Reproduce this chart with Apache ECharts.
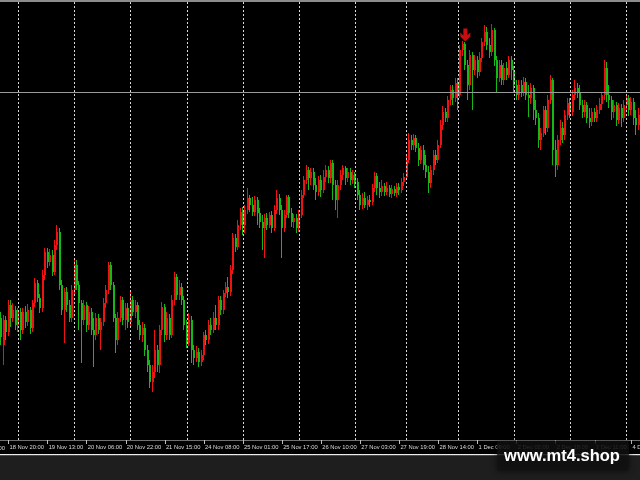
<!DOCTYPE html>
<html>
<head>
<meta charset="utf-8">
<script src="https://cdn.jsdelivr.net/npm/echarts@6/dist/echarts.min.js"></script>
<style>
html,body{margin:0;padding:0;background:#000;}
#chart{width:640px;height:480px;}
</style>
</head>
<body>
<div id="chart"></div>
<script>
// Trading sessions: [day, first hour, last hour] (hourly bars)
const sessions = [
  ['18 Nov',17,23],['19 Nov',1,23],['20 Nov',1,23],['21 Nov',1,23],
  ['24 Nov',1,23],['25 Nov',1,23],['26 Nov',1,23],['27 Nov',1,21],
  ['28 Nov',1,21],['1 Dec',1,23],['2 Dec',1,23],['3 Dec',1,23],['4 Dec',1,6]
];
// Axis tick labels
const tickLabels = ['18 Nov 20:00','19 Nov 13:00','20 Nov 06:00','20 Nov 22:00','21 Nov 15:00',
  '24 Nov 08:00','25 Nov 01:00','25 Nov 17:00','26 Nov 10:00','27 Nov 03:00','27 Nov 19:00',
  '28 Nov 14:00','1 Dec 09:00','2 Dec 02:00','2 Dec 18:00','3 Dec 11:00','4 Dec 03:00'];
const cutLabel = '18 Nov 04:00';
// Candles: [open, close, low, high]
const candles = [
[3922,3903,3895,3928],[3895,3920,3875,3925],[3920,3908,3900,3924],[3908,3935,3904,3940],[3935,3922,3913,3940],
[3922,3930,3918,3937],[3930,3915,3910,3934],[3915,3928,3908,3932],[3928,3910,3900,3932],[3910,3928,3906,3932],
[3928,3918,3912,3934],[3918,3930,3914,3936],[3930,3912,3906,3933],[3912,3937,3908,3940],[3937,3957,3933,3962],
[3957,3942,3938,3960],[3942,3932,3927,3946],[3932,3965,3928,3970],[3965,3988,3960,3992],[3988,3978,3972,3992],
[3978,3985,3974,3991],[3985,3968,3964,3990],[3968,3995,3965,4000],[3995,4008,3990,4015],[4008,3955,3950,4012],
[3955,3930,3925,3960],[3930,3948,3897,3952],[3948,3935,3928,3953],[3935,3922,3918,3940],[3922,3950,3918,3955],
[3950,3975,3946,3980],[3975,3955,3950,3980],[3955,3937,3910,3959],[3937,3920,3877,3940],[3920,3935,3915,3940],
[3935,3915,3908,3938],[3915,3928,3910,3934],[3928,3910,3905,3932],[3910,3905,3873,3922],[3905,3922,3900,3927],
[3922,3910,3906,3926],[3910,3918,3890,3922],[3918,3937,3914,3942],[3937,3950,3932,3955],[3950,3975,3946,3978],
[3975,3955,3950,3978],[3955,3922,3918,3958],[3922,3900,3887,3926],[3900,3922,3895,3928],[3922,3940,3918,3944],
[3940,3920,3915,3943],[3920,3932,3910,3937],[3932,3918,3912,3937],[3918,3940,3914,3948],[3940,3928,3924,3944],
[3928,3935,3922,3940],[3935,3915,3910,3938],[3915,3905,3900,3920],[3905,3912,3898,3918],[3912,3890,3884,3916],
[3890,3875,3868,3895],[3875,3858,3852,3880],[3858,3868,3848,3875],[3868,3890,3862,3910],[3890,3875,3868,3895],
[3875,3910,3867,3915],[3910,3933,3905,3938],[3933,3905,3898,3936],[3905,3922,3900,3928],[3922,3905,3900,3926],
[3905,3940,3902,3945],[3940,3963,3935,3968],[3963,3945,3940,3966],[3945,3953,3940,3960],[3953,3940,3935,3957],
[3940,3915,3910,3944],[3915,3897,3892,3920],[3897,3920,3894,3927],[3920,3890,3877,3924],[3890,3882,3875,3895],
[3882,3888,3878,3894],[3888,3878,3873,3892],[3878,3885,3874,3890],[3885,3905,3880,3908],[3905,3900,3895,3910],
[3900,3915,3896,3920],[3915,3910,3905,3922],[3910,3922,3907,3928],[3922,3915,3910,3935],[3915,3940,3910,3944],
[3940,3930,3925,3944],[3930,3947,3926,3950],[3947,3953,3943,3958],[3953,3948,3942,3963],[3948,3970,3944,3975],
[3970,4002,3966,4007],[4002,3993,3988,4006],[3993,4015,3990,4020],[4015,4028,4010,4032],[4028,4015,4005,4033],
[4015,4030,4007,4035],[4030,4042,4026,4052],[4042,4035,4028,4045],[4035,4028,4024,4043],[4028,4040,4024,4044],
[4040,4027,4015,4043],[4027,4018,4012,4032],[4018,4012,3990,4025],[4012,4022,3982,4026],[4022,4015,4010,4027],
[4015,4025,4012,4028],[4025,4012,4007,4029],[4012,4030,4009,4035],[4030,4042,4026,4050],[4042,4030,4025,4046],
[4030,4012,3982,4035],[4012,4025,4008,4030],[4025,4043,4022,4045],[4043,4027,4022,4045],[4027,4018,4013,4032],
[4018,4022,4012,4026],[4022,4012,4007,4026],[4012,4025,4008,4030],[4025,4045,4022,4050],[4045,4060,4042,4064],
[4060,4070,4056,4075],[4070,4062,4050,4073],[4062,4068,4055,4072],[4068,4055,4050,4072],[4055,4048,4040,4062],
[4048,4060,4044,4064],[4060,4050,4043,4065],[4050,4063,4047,4070],[4063,4070,4058,4075],[4070,4062,4057,4074],
[4062,4077,4057,4080],[4077,4055,4040,4080],[4055,4040,4030,4060],[4040,4055,4022,4060],[4055,4065,4050,4070],
[4065,4072,4060,4075],[4072,4062,4055,4074],[4062,4068,4058,4072],[4068,4060,4055,4072],[4060,4065,4056,4070],
[4065,4058,4052,4068],[4058,4045,4040,4062],[4045,4035,4030,4050],[4035,4042,4031,4047],[4042,4035,4032,4048],
[4035,4040,4030,4044],[4040,4038,4033,4045],[4038,4052,4035,4056],[4052,4064,4048,4068],[4064,4052,4045,4067],
[4052,4048,4042,4058],[4048,4054,4044,4060],[4054,4048,4044,4057],[4048,4052,4045,4058],[4052,4046,4043,4055],
[4046,4051,4042,4055],[4051,4047,4044,4054],[4047,4053,4043,4057],[4053,4050,4045,4057],[4050,4058,4047,4062],
[4058,4063,4054,4067],[4063,4080,4060,4085],[4080,4100,4077,4107],[4100,4095,4090,4105],[4095,4102,4090,4106],
[4102,4092,4088,4105],[4092,4080,4074,4097],[4080,4090,4076,4094],[4090,4075,4070,4095],[4075,4068,4062,4085],
[4068,4057,4047,4074],[4057,4070,4052,4075],[4070,4085,4065,4090],[4085,4080,4075,4090],[4080,4095,4077,4100],
[4095,4115,4092,4120],[4115,4128,4110,4134],[4128,4122,4118,4132],[4122,4140,4118,4144],[4140,4150,4135,4155],
[4150,4142,4135,4155],[4142,4157,4138,4162],[4157,4145,4130,4162],[4145,4190,4142,4195],[4190,4196,4184,4199],
[4196,4175,4170,4198],[4175,4155,4140,4180],[4155,4185,4150,4190],[4185,4170,4130,4188],[4170,4180,4165,4185],
[4180,4168,4162,4184],[4168,4182,4164,4188],[4182,4198,4178,4202],[4198,4208,4194,4215],[4208,4195,4190,4213],
[4195,4188,4182,4202],[4188,4210,4184,4216],[4210,4180,4174,4212],[4180,4162,4148,4184],[4162,4175,4158,4180],
[4175,4160,4155,4180],[4160,4172,4155,4177],[4172,4165,4160,4178],[4165,4180,4162,4184],[4180,4170,4160,4184],
[4170,4155,4148,4174],[4155,4145,4140,4160],[4145,4155,4140,4160],[4155,4148,4143,4160],[4148,4158,4144,4163],
[4158,4145,4140,4162],[4145,4142,4123,4155],[4142,4152,4136,4157],[4152,4130,4120,4155],[4130,4122,4115,4140],
[4122,4100,4092,4127],[4100,4107,4090,4112],[4107,4130,4103,4134],[4130,4112,4105,4134],[4112,4140,4108,4145],
[4140,4160,4136,4165],[4160,4090,4075,4162],[4090,4075,4063,4100],[4075,4100,4070,4105],[4100,4112,4095,4120],
[4112,4105,4097,4118],[4105,4125,4100,4130],[4125,4137,4120,4142],[4137,4128,4122,4142],[4128,4145,4124,4150],
[4145,4152,4140,4160],[4152,4148,4142,4157],[4148,4135,4130,4155],[4135,4128,4122,4140],[4128,4135,4123,4140],
[4135,4122,4117,4138],[4122,4118,4112,4132],[4118,4128,4114,4132],[4128,4122,4118,4132],[4122,4130,4118,4135],
[4130,4136,4126,4142],[4136,4145,4130,4148],[4145,4172,4140,4180],[4172,4145,4138,4178],[4145,4140,4132,4155],
[4140,4128,4120,4144],[4128,4135,4122,4140],[4135,4120,4114,4138],[4120,4132,4116,4137],[4132,4122,4113,4136],
[4122,4135,4118,4140],[4135,4142,4130,4146],[4142,4130,4124,4145],[4130,4138,4125,4143],[4138,4122,4115,4142],
[4122,4115,4105,4130],[4115,4125,4110,4132]
];
// Horizontal price line and signal arrow
const levelPrice = 4148;
const arrowBar = '1 Dec 04:00';
const arrowPrice = 4205;

const UP = '#f01212', DOWN = '#16b816';

const categories = [];
sessions.forEach(([d, a, b]) => {
  for (let h = a; h <= b; h++) categories.push(d + ' ' + String(h).padStart(2, '0') + ':00');
});
const dayStarts = sessions.slice(1).map(s => s[0] + ' 01:00');
const tickSet = new Set(tickLabels);
const candleRows = candles.map((c, i) => [categories[i], c[0], c[1], c[2], c[3]]);

function renderCandle(params, api) {
  const i = api.value(0);
  const o = api.value(1), c = api.value(2), lo = api.value(3), hi = api.value(4);
  const pO = api.coord([i, o]), pC = api.coord([i, c]);
  const pL = api.coord([i, lo]), pH = api.coord([i, hi]);
  const cx = pO[0];
  const x0 = Math.round(cx - 1);
  const color = c >= o ? UP : DOWN;
  const yH = Math.round(pH[1]), yL = Math.round(pL[1]);
  const yTop = Math.round(Math.min(pO[1], pC[1]));
  const yBot = Math.round(Math.max(pO[1], pC[1]));
  return {
    type: 'group',
    children: [
      {type: 'rect', shape: {x: x0, y: yH, width: 1, height: Math.max(1, yL - yH)}, style: {fill: color}},
      {type: 'rect', shape: {x: x0, y: yTop, width: 2, height: Math.max(1, yBot - yTop)}, style: {fill: color}}
    ]
  };
}

const chart = echarts.init(document.getElementById('chart'), null, {renderer: 'canvas'});
const axisFont = '"Liberation Sans", Arial, sans-serif';
chart.setOption({
  backgroundColor: '#000000',
  animation: false,
  grid: {left: 0, top: 0, width: 640, height: 440, containLabel: false, outerBoundsMode: 'none'},
  xAxis: {
    type: 'category',
    data: categories,
    min: 0,
    max: categories.length - 1,
    boundaryGap: true,
    axisLine: {show: true, lineStyle: {color: '#707070', width: 1}},
    axisTick: {show: true, alignWithLabel: true, length: 4, interval: (i, v) => tickSet.has(v),
      lineStyle: {color: '#c0c0c0'}},
    axisLabel: {show: true, interval: (i, v) => tickSet.has(v), color: '#dcdcdc', fontSize: 5.8,
      fontFamily: axisFont, align: 'left', margin: 4, padding: [0, 0, 0, 1]},
    splitLine: {show: false}
  },
  yAxis: {
    type: 'value', min: 3800, max: 4240, show: false, splitLine: {show: false}
  },
  series: [
    {
      type: 'line', data: [], z: 1, silent: true,
      markLine: {
        silent: true, symbol: ['none', 'none'], label: {show: false}, animation: false,
        lineStyle: {color: '#d8d8d8', type: [2, 2], width: 1},
        emphasis: {disabled: true},
        data: dayStarts.map(v => ({xAxis: v}))
      }
    },
    {
      type: 'custom', z: 2, silent: true,
      data: candleRows,
      encode: {x: 0, y: [1, 2, 3, 4]},
      renderItem: renderCandle
    },
    {
      type: 'line', data: [], z: 4, silent: true,
      markLine: {
        silent: true, symbol: ['none', 'none'], label: {show: false}, animation: false,
        lineStyle: {color: '#9a9a9a', type: 'solid', width: 1},
        emphasis: {disabled: true},
        data: [{yAxis: levelPrice}]
      }
    },
    {
      type: 'scatter', z: 5, silent: true,
      data: [[arrowBar, arrowPrice]],
      symbol: 'path://M3,0 L7,0 L7,7 L10,4 L10,8 L5,13 L0,8 L0,4 L3,7 Z',
      symbolSize: [10, 13],
      itemStyle: {color: '#ff1010'}
    }
  ],
  graphic: [
    {type: 'rect', z: 100, shape: {x: 0, y: 0, width: 640, height: 2}, style: {fill: '#8c8c8c'}},
    {type: 'rect', z: 100, shape: {x: 0, y: 454, width: 640, height: 1.5}, style: {fill: '#ececec'}},
    {type: 'rect', z: 100, shape: {x: 0, y: 455.5, width: 640, height: 25}, style: {fill: '#1e1e1e'}},
    {type: 'text', z: 100, style: {text: cutLabel, x: 5, y: 448, align: 'right', verticalAlign: 'middle',
      fill: '#dcdcdc', font: '5.8px ' + axisFont}},
    {type: 'rect', z: 110, shape: {x: 497, y: 441, width: 132, height: 30, r: 3},
      style: {fill: 'rgba(18,18,18,0.72)', shadowBlur: 6, shadowColor: 'rgba(0,0,0,0.8)'}},
    {type: 'text', z: 111, style: {text: 'www.mt4.shop', x: 562, y: 456, align: 'center', verticalAlign: 'middle',
      fill: '#ffffff', font: 'bold 16.5px "Liberation Sans", Arial, sans-serif'}}
  ]
});
</script>
</body>
</html>
